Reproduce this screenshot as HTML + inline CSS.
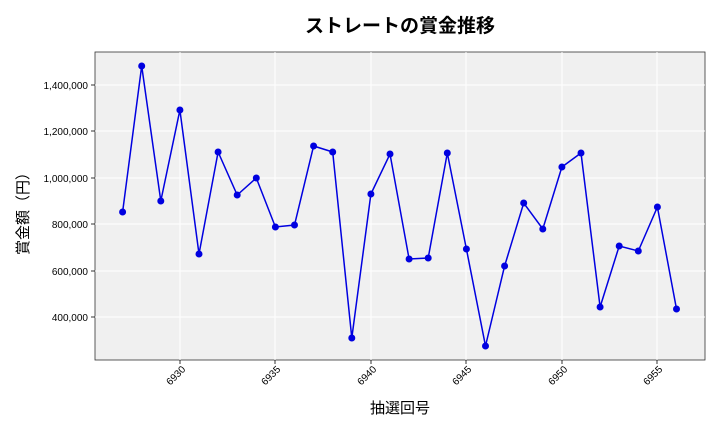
<!DOCTYPE html>
<html><head><meta charset="utf-8"><style>
body{margin:0;background:#fff;}
svg text{font-family:"Liberation Sans","Noto Sans CJK JP",sans-serif;}
</style></head><body>
<svg width="720" height="432" xmlns="http://www.w3.org/2000/svg">
<rect x="0" y="0" width="720" height="432" fill="#fff"/>
<rect x="95" y="52" width="610" height="308" fill="#f0f0f0" stroke="#333" stroke-width="0.8"/>
<g stroke="#fff" stroke-width="1">
<line x1="180" y1="52" x2="180" y2="360"/><line x1="275" y1="52" x2="275" y2="360"/>
<line x1="371" y1="52" x2="371" y2="360"/><line x1="466" y1="52" x2="466" y2="360"/>
<line x1="562" y1="52" x2="562" y2="360"/><line x1="657" y1="52" x2="657" y2="360"/>
<line x1="95" y1="317" x2="705" y2="317"/><line x1="95" y1="271" x2="705" y2="271"/>
<line x1="95" y1="224" x2="705" y2="224"/><line x1="95" y1="178" x2="705" y2="178"/>
<line x1="95" y1="131" x2="705" y2="131"/><line x1="95" y1="85" x2="705" y2="85"/>
</g>
<g font-size="10" fill="#000" text-anchor="end">
<text x="88" y="321">400,000</text><text x="88" y="275">600,000</text>
<text x="88" y="228">800,000</text><text x="88" y="182">1,000,000</text>
<text x="88" y="135">1,200,000</text><text x="88" y="89">1,400,000</text>
</g>
<g stroke="#000" stroke-width="0.8">
<line x1="91" y1="317" x2="95" y2="317"/><line x1="91" y1="271" x2="95" y2="271"/>
<line x1="91" y1="224" x2="95" y2="224"/><line x1="91" y1="178" x2="95" y2="178"/>
<line x1="91" y1="131" x2="95" y2="131"/><line x1="91" y1="85" x2="95" y2="85"/>
<line x1="180" y1="360" x2="180" y2="364"/><line x1="275" y1="360" x2="275" y2="364"/>
<line x1="371" y1="360" x2="371" y2="364"/><line x1="466" y1="360" x2="466" y2="364"/>
<line x1="562" y1="360" x2="562" y2="364"/><line x1="657" y1="360" x2="657" y2="364"/>
</g>
<g font-size="10" fill="#000" text-anchor="end">
<text transform="translate(186,370) rotate(-45)">6930</text>
<text transform="translate(281,370) rotate(-45)">6935</text>
<text transform="translate(377,370) rotate(-45)">6940</text>
<text transform="translate(472,370) rotate(-45)">6945</text>
<text transform="translate(568,370) rotate(-45)">6950</text>
<text transform="translate(663,370) rotate(-45)">6955</text>
</g>
<text x="400" y="32" font-size="19" font-weight="bold" text-anchor="middle">ストレートの賞金推移</text>
<text x="400" y="413" font-size="15" text-anchor="middle">抽選回号</text>
<text transform="translate(28,210) rotate(-90)" font-size="15" text-anchor="middle">賞金額（円）</text>
<polyline fill="none" stroke="#0000e0" stroke-width="1.5" points="122.6,212 141.7,66 160.8,201 179.9,110 199,254 218.1,152 237.2,195 256.3,178 275.4,227 294.5,225 313.6,146 332.7,152 351.8,338 370.9,194 390,154 409.1,259 428.2,258 447.3,153 466.4,249 485.5,346 504.6,266 523.7,203 542.8,229 561.9,167 581,153 600.1,307 619.2,246 638.3,251 657.4,207 676.5,309"/>
<g fill="#0000e0">
<circle cx="122.6" cy="212" r="3.5"/><circle cx="141.7" cy="66" r="3.5"/><circle cx="160.8" cy="201" r="3.5"/><circle cx="179.9" cy="110" r="3.5"/><circle cx="199" cy="254" r="3.5"/><circle cx="218.1" cy="152" r="3.5"/><circle cx="237.2" cy="195" r="3.5"/><circle cx="256.3" cy="178" r="3.5"/><circle cx="275.4" cy="227" r="3.5"/><circle cx="294.5" cy="225" r="3.5"/><circle cx="313.6" cy="146" r="3.5"/><circle cx="332.7" cy="152" r="3.5"/><circle cx="351.8" cy="338" r="3.5"/><circle cx="370.9" cy="194" r="3.5"/><circle cx="390" cy="154" r="3.5"/><circle cx="409.1" cy="259" r="3.5"/><circle cx="428.2" cy="258" r="3.5"/><circle cx="447.3" cy="153" r="3.5"/><circle cx="466.4" cy="249" r="3.5"/><circle cx="485.5" cy="346" r="3.5"/><circle cx="504.6" cy="266" r="3.5"/><circle cx="523.7" cy="203" r="3.5"/><circle cx="542.8" cy="229" r="3.5"/><circle cx="561.9" cy="167" r="3.5"/><circle cx="581" cy="153" r="3.5"/><circle cx="600.1" cy="307" r="3.5"/><circle cx="619.2" cy="246" r="3.5"/><circle cx="638.3" cy="251" r="3.5"/><circle cx="657.4" cy="207" r="3.5"/><circle cx="676.5" cy="309" r="3.5"/>
</g>
</svg>
</body></html>
